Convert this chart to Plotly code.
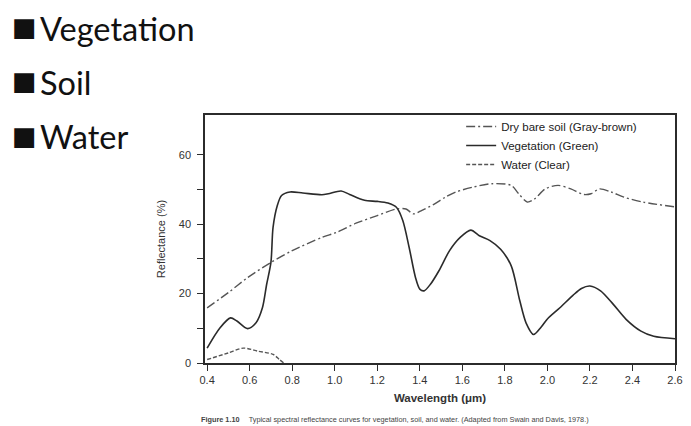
import plotly.graph_objects as go

# ---- data ----
soil_x = [0.40, 0.50, 0.59, 0.70, 0.80, 0.94, 1.01, 1.10, 1.20, 1.29, 1.335, 1.37, 1.41, 1.47,
          1.52, 1.57, 1.65, 1.74, 1.83, 1.865, 1.905, 1.94, 1.99, 2.05, 2.11, 2.17, 2.205,
          2.245, 2.30, 2.36, 2.45, 2.60]
soil_y = [15.9, 20.3, 24.6, 29.0, 32.4, 36.2, 37.7, 40.3, 42.5, 44.4, 44.4, 43.0, 44.0, 45.9,
          47.8, 49.3, 50.7, 51.7, 51.2, 48.8, 46.4, 47.3, 50.2, 51.2, 50.2, 48.6, 48.8,
          50.2, 49.3, 47.8, 46.4, 45.0]

veg_x = [0.40, 0.46, 0.51, 0.54, 0.59, 0.63, 0.66, 0.68, 0.70, 0.71, 0.73, 0.75, 0.79, 0.85,
         0.94, 0.97, 1.03, 1.07, 1.14, 1.20, 1.25, 1.29, 1.32, 1.35, 1.38, 1.40, 1.42, 1.45,
         1.49, 1.54, 1.59, 1.64, 1.68, 1.73, 1.78, 1.83, 1.87, 1.90, 1.935, 1.97, 2.00, 2.06,
         2.12, 2.16, 2.20, 2.25, 2.31, 2.37, 2.44, 2.50, 2.60]
veg_y = [4.3, 10.1, 13.0, 12.1, 9.9, 11.6, 15.9, 22.7, 29.0, 39.1, 45.4, 48.3, 49.3, 49.0,
         48.5, 48.8, 49.6, 48.6, 46.9, 46.6, 46.1, 44.9, 41.1, 33.3, 24.6, 21.3, 20.8, 22.7,
         26.6, 32.4, 36.2, 38.3, 36.7, 35.3, 32.8, 28.0, 18.0, 11.5, 8.2, 10.3, 12.7, 16.0,
         19.5, 21.5, 22.2, 20.8, 16.9, 12.6, 9.2, 7.7, 7.0]

water_x = [0.40, 0.50, 0.57, 0.64, 0.71, 0.74, 0.76]
water_y = [1.0, 2.9, 4.3, 3.4, 2.5, 1.0, 0.0]

series_names = ["Dry bare soil (Gray-brown)", "Vegetation (Green)", "Water (Clear)"]
bullets = ["Vegetation", "Soil", "Water"]
x_ticks = [0.4, 0.6, 0.8, 1.0, 1.2, 1.4, 1.6, 1.8, 2.0, 2.2, 2.4, 2.6]
y_ticks = [0, 20, 40, 60]
y_minor = [10, 30, 50]
caption = ("<b>Figure 1.10</b>\u2003 Typical spectral reflectance curves for vegetation, "
           "soil, and water. (Adapted from Swain and Davis, 1978.)")

INK = "#2b2b2b"
AXF = "Liberation Sans, Arial, sans-serif"

fig = go.Figure()
fig.add_trace(go.Scatter(x=soil_x, y=soil_y, mode="lines", name=series_names[0],
                         line=dict(color="#555555", width=1.4, dash="9px,3px,2px,3px",
                                   shape="spline", smoothing=0.8)))
fig.add_trace(go.Scatter(x=veg_x, y=veg_y, mode="lines", name=series_names[1],
                         line=dict(color=INK, width=1.6, shape="spline", smoothing=0.8)))
fig.add_trace(go.Scatter(x=water_x, y=water_y, mode="lines", name=series_names[2],
                         line=dict(color="#555555", width=1.4, dash="4px,2px",
                                   shape="spline", smoothing=0.8)))

fig.update_layout(
    width=691, height=426,
    margin=dict(l=205, r=8, t=115, b=63),
    paper_bgcolor="white", plot_bgcolor="white",
    font=dict(family=AXF, size=11, color=INK),
    showlegend=True,
    legend=dict(x=0.545, y=1.012, xanchor="left", yanchor="top",
                bgcolor="rgba(0,0,0,0)", font=dict(size=11.5, color="#222"),
                tracegroupgap=0, itemwidth=30),
    xaxis=dict(range=[0.39, 2.6], tickvals=x_ticks,
               ticktext=[f"{v:.1f}" for v in x_ticks],
               ticks="outside", ticklen=6, tickwidth=1.3, tickcolor=INK,
               showline=True, linecolor=INK, linewidth=1.5, mirror=True,
               showgrid=False, zeroline=False,
               tickfont=dict(size=11, color="#333"),
               title=dict(text="<b>Wavelength (μm)</b>", font=dict(size=11.5, color="#333"),
                          standoff=9)),
    yaxis=dict(range=[0, 71.5], tickvals=y_ticks,
               ticks="outside", ticklen=6, tickwidth=1.3, tickcolor=INK,
               minor=dict(tickvals=y_minor, ticks="outside", ticklen=6, tickwidth=1.3,
                          tickcolor=INK),
               showline=True, linecolor=INK, linewidth=1.5, mirror=True,
               showgrid=False, zeroline=False,
               tickfont=dict(size=11, color="#333"), ticklabelstandoff=4,
               title=dict(text="Reflectance (%)", font=dict(size=11, color="#333"),
                          standoff=11)),
)

# bullet list at the top-left
sq_centers = [27, 80.5, 135.5]
for i, b in enumerate(bullets):
    fig.add_annotation(x=0, y=1, xref="paper", yref="paper", xanchor="center", yanchor="middle",
                       xshift=24 - 205, yshift=115 - sq_centers[i], showarrow=False,
                       text="■", font=dict(family="DejaVu Sans", size=26, color="#111"))
    fig.add_annotation(x=0, y=1, xref="paper", yref="paper", xanchor="left", yanchor="top",
                       xshift=38 - 205, yshift=108 - i * 54, showarrow=False,
                       text=b, font=dict(family="Lato, sans-serif", size=32.5, color="#111"))

# caption under the chart
fig.add_annotation(x=0, y=0, xref="paper", yref="paper", xanchor="center", yanchor="middle",
                   xshift=395 - 205, yshift=-56, showarrow=False, text=caption,
                   font=dict(family=AXF, size=7.3, color="#444"))

fig.write_html("out.html")
